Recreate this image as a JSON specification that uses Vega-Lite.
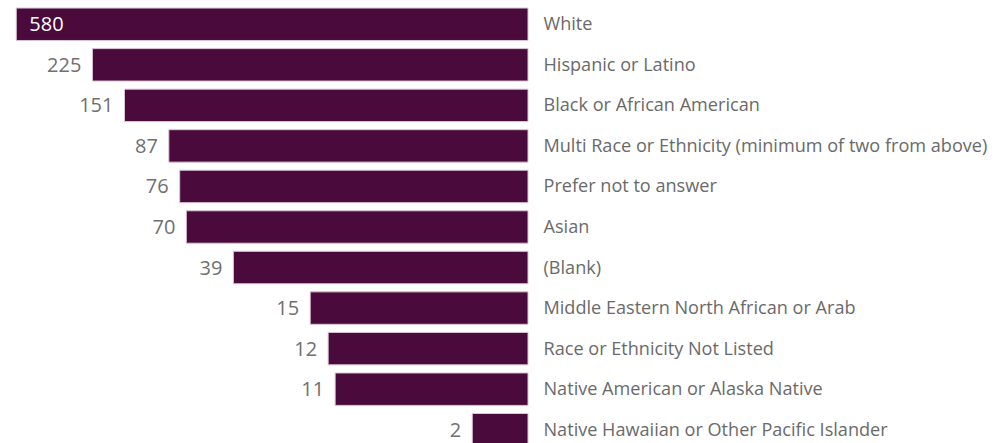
{
  "$schema": "https://vega.github.io/schema/vega-lite/v6.json",
  "width": 528,
  "height": 446,
  "autosize": "none",
  "padding": {"left": 0, "top": 4, "right": 469, "bottom": 0},
  "background": "white",
  "config": {"view": {"stroke": null}},
  "data": {"values": [
    {"group": "White", "count": 580},
    {"group": "Hispanic or Latino", "count": 225},
    {"group": "Black or African American", "count": 151},
    {"group": "Multi Race or Ethnicity (minimum of two from above)", "count": 87},
    {"group": "Prefer not to answer", "count": 76},
    {"group": "Asian", "count": 70},
    {"group": "(Blank)", "count": 39},
    {"group": "Middle Eastern North African or Arab", "count": 15},
    {"group": "Race or Ethnicity Not Listed", "count": 12},
    {"group": "Native American or Alaska Native", "count": 11},
    {"group": "Native Hawaiian or Other Pacific Islander", "count": 2}
  ]},
  "encoding": {
    "y": {
      "field": "group", "type": "nominal", "sort": null,
      "scale": {"paddingInner": 0.2, "paddingOuter": 0.1},
      "axis": {"orient": "right", "title": null, "domain": false, "ticks": false,
               "labelPadding": 15, "labelLimit": 0, "labelFont": "Open Sans",
               "labelFontSize": 18.1, "labelColor": "#6a6a6a", "labelOffset": 1}
    }
  },
  "layer": [
    {
      "mark": {"type": "bar", "color": "#4a0a3b", "stroke": "#d9c6d4", "strokeWidth": 1},
      "encoding": {
        "x": {"field": "count", "type": "quantitative",
              "scale": {"type": "log", "domain": [1, 710], "reverse": true, "nice": false},
              "axis": null},
        "x2": {"datum": 1}
      }
    },
    {
      "transform": [{"filter": "datum.count < 500"}],
      "mark": {"type": "text", "align": "right", "baseline": "middle", "dx": -11, "dy": 1,
               "font": "Open Sans", "fontSize": 20, "color": "#707070"},
      "encoding": {
        "x": {"field": "count", "type": "quantitative"},
        "text": {"field": "count", "type": "quantitative"}
      }
    },
    {
      "transform": [{"filter": "datum.count >= 500"}],
      "mark": {"type": "text", "align": "left", "baseline": "middle", "dx": 13, "dy": 1,
               "font": "Open Sans", "fontSize": 20, "color": "#ffffff"},
      "encoding": {
        "x": {"field": "count", "type": "quantitative"},
        "text": {"field": "count", "type": "quantitative"}
      }
    }
  ]
}
